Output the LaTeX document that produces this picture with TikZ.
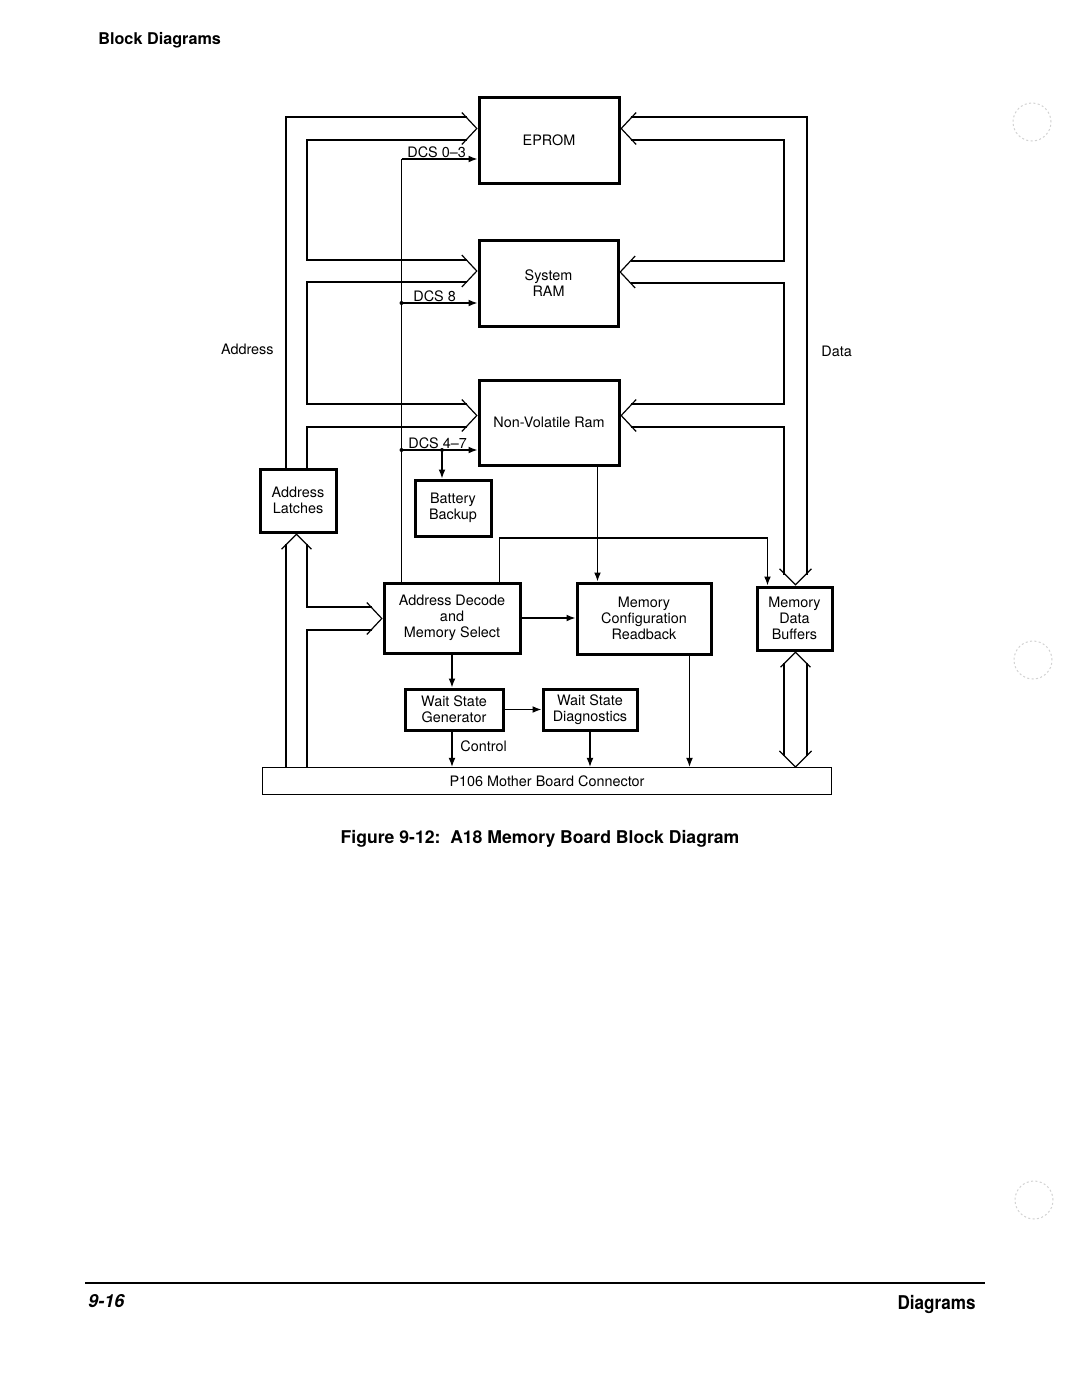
\documentclass[tikz,border=0pt]{standalone}
\usepackage{fontspec}
\setmainfont{TeX Gyre Heros}
\usetikzlibrary{arrows.meta,calc}
\newcommand\fsb{\fontsize{7.2}{8}\selectfont}
\newcommand\mychevE[1]{\draw[wire] ($(#1)+(-15,-16)$) -- (#1) -- ($(#1)+(-15,16)$);}
\newcommand\mychevW[1]{\draw[wire] ($(#1)+(15,-16)$) -- (#1) -- ($(#1)+(15,16)$);}
\newcommand\mychevS[1]{\draw[wire] ($(#1)+(-16,-16)$) -- (#1) -- ($(#1)+(16,-16)$);}
\newcommand\mychevN[1]{\draw[wire] ($(#1)+(-15,15)$) -- (#1) -- ($(#1)+(15,15)$);}
\begin{document}
\begin{tikzpicture}[x=0.5pt,y=-0.5pt,
  blk/.style={draw,line width=1.5pt,inner sep=0pt,align=center,font=\fsb},
  wire/.style={line width=0.6pt},
  sig/.style={wire,-{Latex[length=4.5pt,width=3.4pt]}},
  jdot/.style={circle,fill,inner sep=0pt,minimum size=2pt},
  lbl/.style={font=\fsb,inner sep=0pt}]
\fill[white] (0,0) rectangle (1080,1399);
\useasboundingbox (0,0) rectangle (1080,1399);

% header
\node[anchor=base west,inner sep=0pt,font=\bfseries\fontsize{8.1}{10}\selectfont] (hdr) at (98,44) {Block Diagrams};

% blocks
\node[blk,minimum width=70pt,minimum height=43pt] (eprom) at (549,140) {EPROM};
\node[blk,minimum width=69.5pt,minimum height=43pt] (sram) at (548.5,283) {System\\RAM};
\node[blk,minimum width=70pt,minimum height=42.5pt] (nvram) at (549,422.5) {Non-Volatile Ram};
\node[blk,minimum width=38pt,minimum height=31.5pt] (latch) at (298,500.5) {Address\\Latches};
\node[blk,minimum width=38pt,minimum height=28pt] (batt) at (453,508) {Battery\\Backup};
\node[blk,minimum width=68pt,minimum height=35pt] (deco) at (452,618) {Address Decode\\and\\Memory Select};
\node[blk,minimum width=67pt,minimum height=35.5pt] (mcfg) at (644,618.5) {Memory\\Configuration\\Readback};
\node[blk,minimum width=37.5pt,minimum height=31.5pt] (mdb) at (794.5,618.5) {Memory\\Data\\Buffers};
\node[blk,minimum width=49pt,minimum height=20.5pt] (wsg) at (454,709.5) {Wait State\\Generator};
\node[blk,minimum width=47pt,minimum height=20.5pt] (wsd) at (590,709.5) {Wait State\\Diagnostics};
\node[draw,line width=0.6pt,inner sep=0pt,font=\fsb,minimum width=284.5pt,minimum height=13.5pt] (conn) at (547,781) {P106 Mother Board Connector};

% side labels
\node[lbl,anchor=east] (addrlbl) at (274,349) {Address};
\node[lbl,anchor=west] (datalbl) at (821,351) {Data};

% address bus (left)
\draw[wire] (286,767.5) -- (286,543.5);
\draw[wire] (307,543.5) -- (307,607) -- (372,607);
\draw[wire] (372,630) -- (307,630) -- (307,767.5);
\draw[wire] (286,469) -- (286,117) -- (467,117);
\draw[wire] (467,140) -- (307,140) -- (307,260) -- (467,260);
\draw[wire] (467,282) -- (307,282) -- (307,404) -- (467,404);
\draw[wire] (467,427) -- (307,427) -- (307,469);
\coordinate (tE1) at ($(eprom.west)+(-0.7,-11.5)$);
\coordinate (tE2) at ($(sram.west)+(-0.7,-12)$);
\coordinate (tE3) at ($(nvram.west)+(-0.7,-7)$);
\coordinate (tE4) at ($(deco.west)+(-0.7,0.5)$);
\coordinate (tLa) at ($(latch.south)+(-1.5,0.7)$);
\mychevE{tE1}
\mychevE{tE2}
\mychevE{tE3}
\mychevE{tE4}
\mychevN{tLa}

% data bus (right)
\draw[wire] (630.5,117) -- (807,117) -- (807,574.5);
\draw[wire] (630.5,140) -- (784,140) -- (784,261) -- (630.5,261);
\draw[wire] (630.5,283) -- (784,283) -- (784,404) -- (630.5,404);
\draw[wire] (630.5,427) -- (784,427) -- (784,574.5);
\coordinate (tW1) at ($(eprom.east)+(0.7,-11.5)$);
\coordinate (tW2) at ($(sram.east)+(0.7,-11)$);
\coordinate (tW3) at ($(nvram.east)+(0.7,-7)$);
\coordinate (tS1) at ($(mdb.north)+(1,-0.7)$);
\coordinate (tN1) at ($(mdb.south)+(1,0.7)$);
\coordinate (tS2) at ($(conn.north)+(248.5,0)$);
\mychevW{tW1}
\mychevW{tW2}
\mychevW{tW3}
\mychevS{tS1}
\mychevN{tN1}
\mychevS{tS2}
\draw[wire] (784,662.5) -- (784,755.5);
\draw[wire] (807,662.5) -- (807,755.5);

% chip select lines
\coordinate (v) at ($(deco.north west)+(19,0)$);
\coordinate (y0) at (0,159);
\coordinate (y8) at (0,303);
\coordinate (y47) at (0,450);
\coordinate (bt) at ($(batt.north)+(-11,0)$);
\draw[wire] (v) -- (v |- y0);
\draw[sig] (v |- y0) -- (eprom.west |- y0);
\draw[sig] (v |- y8) -- (sram.west |- y8);
\draw[sig] (v |- y47) -- (nvram.west |- y47);
\draw[sig] (bt |- y47) -- (bt);
\node[jdot] (j8) at (v |- y8) {};
\node[jdot] (j47) at (v |- y47) {};
\node[jdot] (jb) at (bt |- y47) {};
\node[lbl,anchor=base west] (dcs03) at (407,157) {DCS 0–3};
\node[lbl,anchor=base west] (dcs8) at (413,301) {DCS 8};
\node[lbl,anchor=base west] (dcs47) at (408,448) {DCS 4–7};

% other signals
\coordinate (nv1) at ($(nvram.south west)+(120,0)$);
\draw[sig] (nv1) -- (nv1 |- mcfg.north);
\coordinate (d1) at ($(deco.north east)+(-22,0)$);
\coordinate (b1) at ($(mdb.north west)+(12,0)$);
\coordinate (dtop) at (0,538);
\draw[sig] (d1) -- (d1 |- dtop) -- (b1 |- dtop) -- (b1);
\draw[sig] (deco.east) -- (deco.east -| mcfg.west);
\draw[sig] (deco.south) -- (deco.south |- wsg.north);
\draw[sig] (wsg.east) -- (wsg.east -| wsd.west);
\draw[sig] (deco.south |- wsg.south) -- (deco.south |- conn.north);
\node[lbl,anchor=base west] (ctl) at (460,751) {Control};
\draw[sig] (wsd.south) -- (wsd.south |- conn.north);
\coordinate (mc1) at ($(mcfg.south east)+(-23,0)$);
\draw[sig] (mc1) -- (mc1 |- conn.north);

% caption
\node[anchor=base,inner sep=0pt,font=\bfseries\fontsize{8.8}{10}\selectfont] (cap) at (540,843) {Figure 9-12:\ \ A18 Memory Board Block Diagram};

% footer
\draw[line width=0.9pt] (85,1283) -- (985,1283);
\node[anchor=base west,inner sep=0pt,font=\bfseries\itshape\fontsize{9}{10}\selectfont] (pg) at (88,1307) {9-16};
\node[anchor=base east,inner sep=0pt,font=\bfseries\fontsize{9.5}{10}\selectfont] (ft) at (976,1309) {\scalebox{0.9}[1]{Diagrams}};

% punch holes
\draw[gray!35,line width=0.5pt,dash pattern=on 1pt off 1.2pt] (1032,122) circle[radius=9.5pt];
\draw[gray!35,line width=0.5pt,dash pattern=on 1pt off 1.2pt] (1033,660) circle[radius=9.5pt];
\draw[gray!35,line width=0.5pt,dash pattern=on 1pt off 1.2pt] (1034,1200) circle[radius=9.5pt];
\end{tikzpicture}
\end{document}
